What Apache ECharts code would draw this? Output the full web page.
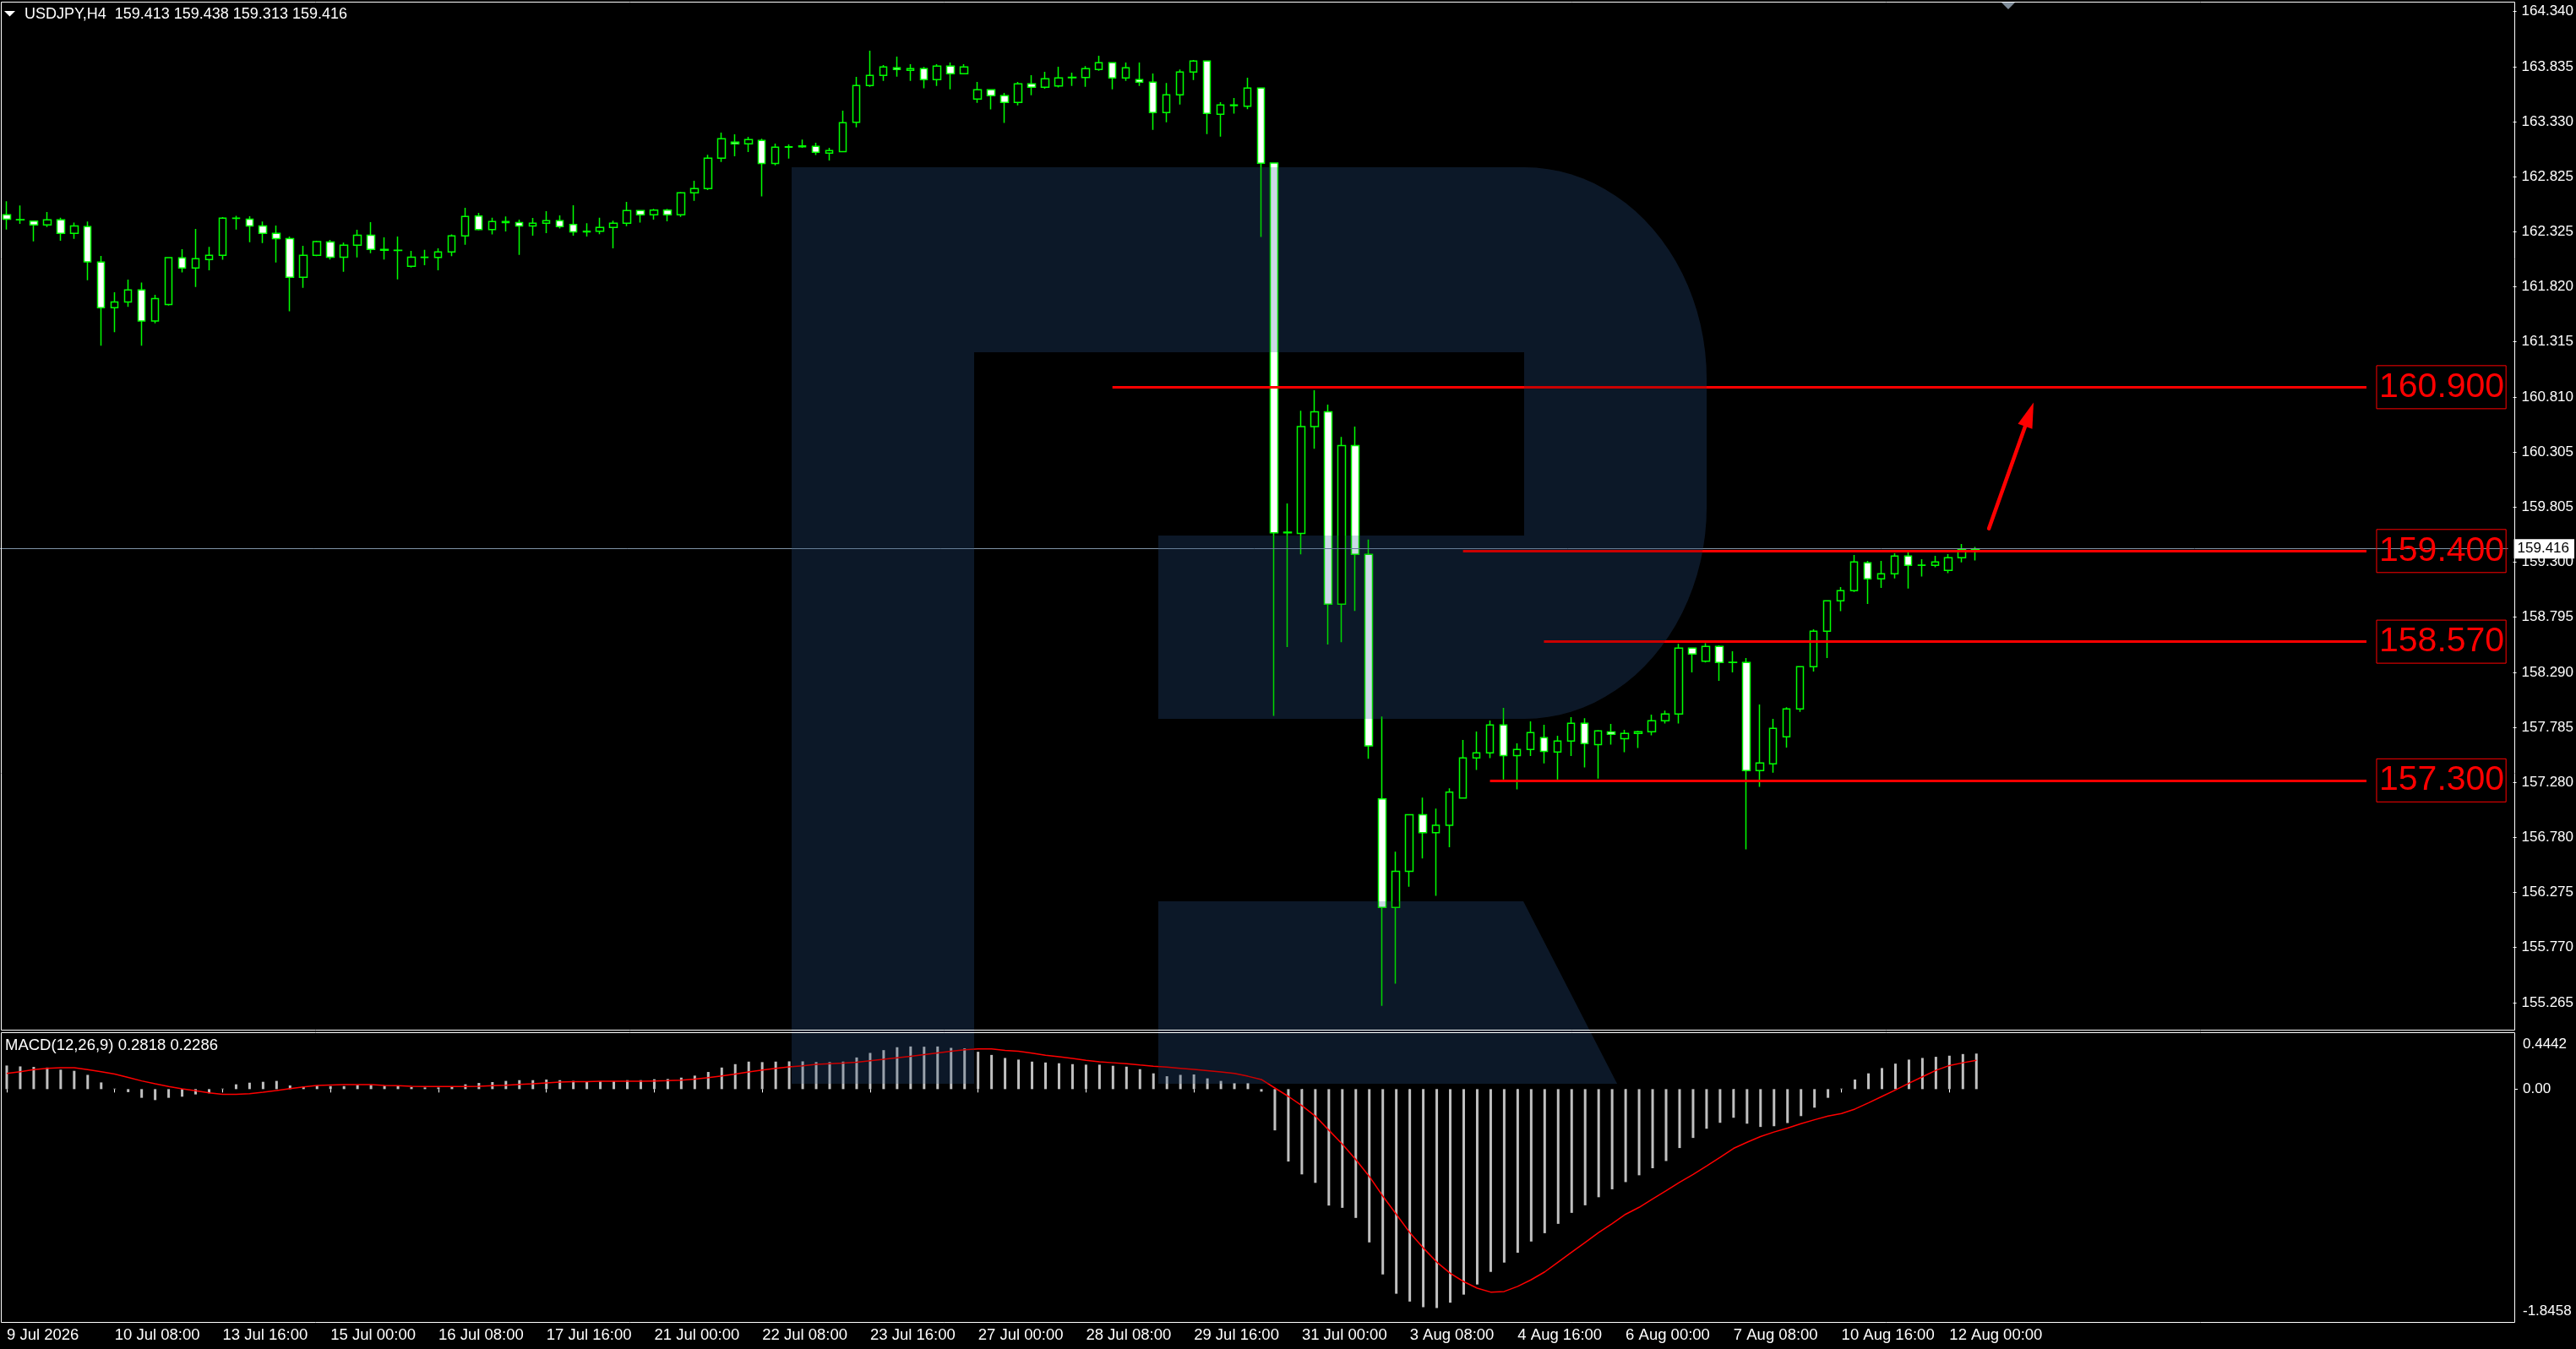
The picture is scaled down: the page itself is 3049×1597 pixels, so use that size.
<!DOCTYPE html>
<html>
<head>
<meta charset="utf-8">
<script src="https://cdn.jsdelivr.net/npm/echarts@6/dist/echarts.min.js"></script>
<style>
html,body{margin:0;padding:0;background:#000;}
#chart{width:3049px;height:1597px;}
</style>
</head>
<body>
<div id="chart"></div>
<script>
// ---------- DATA ----------
const symbolTitle = 'USDJPY,H4  159.413 159.438 159.313 159.416';
const macdTitle = 'MACD(12,26,9) 0.2818 0.2286';

const timeLabels = ['9 Jul 2026','10 Jul 08:00','13 Jul 16:00','15 Jul 00:00','16 Jul 08:00','17 Jul 16:00',
  '21 Jul 00:00','22 Jul 08:00','23 Jul 16:00','27 Jul 00:00','28 Jul 08:00','29 Jul 16:00','31 Jul 00:00',
  '3 Aug 08:00','4 Aug 16:00','6 Aug 00:00','7 Aug 08:00','10 Aug 16:00','12 Aug 00:00'];
const labelStep = 8;       // one time label every 8 H4 bars
const slotCount = 186;     // bar slots visible across the chart (incl. empty right margin)

const opens = [162.478,162.432,162.421,162.385,162.432,162.308,162.370,162.045,161.627,161.681,
161.790,161.506,161.656,162.084,161.991,162.068,162.107,162.447,162.439,162.377,
162.308,162.261,161.906,162.107,162.230,162.091,162.200,162.292,162.161,162.153,
162.006,162.091,162.089,162.138,162.285,162.468,162.344,162.416,162.408,162.377,
162.401,162.424,162.390,162.323,162.328,162.362,162.401,162.517,162.478,162.522,
162.478,162.679,162.718,162.997,163.143,163.128,163.159,162.948,163.097,163.102,
163.105,163.043,163.056,163.326,163.662,163.754,163.824,163.801,163.816,163.716,
163.840,163.770,163.538,163.623,163.569,163.507,163.677,163.646,163.659,163.734,
163.736,163.809,163.870,163.731,163.716,163.693,163.414,163.577,163.785,163.886,
163.399,163.484,163.473,163.638,162.952,159.566,159.561,160.539,160.674,158.914,
160.365,159.369,157.131,156.136,156.467,156.985,156.822,156.889,157.139,157.505,
157.552,157.807,157.526,157.583,157.691,157.560,157.660,157.822,157.627,157.743,
157.681,157.730,157.745,157.846,157.908,158.511,158.392,158.526,158.379,158.379,
157.389,157.451,157.699,157.954,158.341,158.666,158.944,159.037,159.292,159.145,
159.191,159.354,159.269,159.269,159.222,159.338,159.413];

const highs = [162.602,162.563,162.425,162.504,162.452,162.408,162.416,162.102,161.769,161.885,
161.859,161.746,162.091,162.163,162.349,162.184,162.457,162.470,162.465,162.416,
162.380,162.279,162.194,162.241,162.249,162.223,162.341,162.411,162.272,162.279,
162.148,162.158,162.171,162.298,162.542,162.496,162.452,162.463,162.434,162.450,
162.512,162.473,162.566,162.401,162.452,162.424,162.597,162.524,162.532,162.532,
162.687,162.790,163.027,163.231,163.216,163.192,163.174,163.131,163.123,163.167,
163.138,163.092,163.432,163.742,163.981,163.850,163.927,163.858,163.832,163.858,
163.873,163.858,163.695,163.626,163.595,163.695,163.757,163.788,163.834,163.780,
163.840,163.935,163.873,163.873,163.873,163.772,163.685,163.809,163.896,163.890,
163.510,163.548,163.734,163.640,162.955,159.836,160.685,160.871,160.741,160.444,
160.539,159.504,157.885,156.647,156.990,157.142,157.041,157.227,157.670,157.748,
157.848,157.964,157.639,157.841,157.810,157.709,157.879,157.869,157.761,157.817,
157.763,157.755,157.902,157.939,158.549,158.515,158.555,158.537,158.482,158.421,
157.995,157.864,157.969,158.345,158.684,158.948,159.070,159.364,159.310,159.310,
159.380,159.387,159.325,159.356,159.372,159.465,159.438];

const lows = [162.344,162.395,162.236,162.367,162.241,162.259,161.880,161.279,161.403,161.635,
161.279,161.485,161.648,161.950,161.818,161.970,162.066,162.344,162.228,162.220,
162.042,161.596,161.810,162.099,162.068,161.957,162.089,162.127,162.068,161.888,
161.996,162.017,161.970,162.099,162.205,162.336,162.298,162.326,162.112,162.287,
162.310,162.354,162.287,162.279,162.300,162.171,162.375,162.408,162.434,162.419,
162.460,162.607,162.705,162.963,163.015,163.053,162.646,162.932,162.994,163.092,
163.025,162.976,163.053,163.280,163.651,163.705,163.744,163.705,163.636,163.659,
163.628,163.765,163.504,163.443,163.319,163.481,163.574,163.633,163.644,163.659,
163.651,163.798,163.628,163.705,163.659,163.257,163.326,163.489,163.713,163.218,
163.195,163.404,163.445,162.275,157.890,158.520,159.369,160.337,158.543,158.565,
158.852,157.497,155.236,155.438,156.327,156.585,156.243,156.687,157.139,157.395,
157.503,157.309,157.217,157.523,157.456,157.309,157.523,157.418,157.317,157.627,
157.557,157.596,157.712,157.820,157.820,158.289,158.379,158.212,158.289,156.668,
157.240,157.371,157.601,157.928,158.297,158.421,158.849,159.026,158.916,159.063,
159.150,159.057,159.166,159.251,159.197,159.297,159.313];

const closes = [162.439,162.434,162.385,162.432,162.308,162.377,162.048,161.627,161.681,161.790,
161.506,161.712,162.086,161.991,162.076,162.107,162.447,162.445,162.377,162.308,
162.261,161.906,162.107,162.233,162.091,162.200,162.292,162.161,162.153,162.151,
162.091,162.089,162.138,162.285,162.463,162.344,162.416,162.408,162.377,162.401,
162.424,162.370,162.323,162.328,162.362,162.401,162.517,162.478,162.522,162.478,
162.679,162.718,162.997,163.174,163.128,163.167,162.948,163.097,163.102,163.110,
163.051,163.066,163.321,163.662,163.754,163.832,163.809,163.816,163.716,163.840,
163.770,163.832,163.623,163.569,163.507,163.677,163.646,163.724,163.731,163.738,
163.816,163.870,163.731,163.824,163.693,163.414,163.577,163.785,163.886,163.406,
163.484,163.479,163.638,162.950,159.566,159.572,160.539,160.674,158.914,160.365,
159.369,157.615,156.136,156.467,156.985,156.822,156.889,157.193,157.505,157.552,
157.807,157.526,157.583,157.737,157.565,157.660,157.822,157.637,157.753,157.722,
157.730,157.745,157.846,157.908,158.511,158.457,158.526,158.379,158.381,157.389,
157.459,157.776,157.954,158.341,158.666,158.944,159.037,159.300,159.145,159.191,
159.354,159.269,159.271,159.300,159.338,159.416,159.416];

const macdHist = [0.187,0.180,0.176,0.171,0.154,0.145,0.113,0.053,0.004,-0.024,
-0.069,-0.087,-0.069,-0.060,-0.042,-0.033,0.004,0.038,0.051,0.058,
0.065,0.029,0.020,0.029,0.024,0.024,0.033,0.033,0.027,0.024,
0.016,0.013,0.013,0.020,0.038,0.049,0.056,0.065,0.071,0.071,
0.076,0.071,0.065,0.062,0.062,0.062,0.071,0.071,0.078,0.080,
0.091,0.107,0.136,0.171,0.198,0.218,0.214,0.218,0.220,0.220,
0.214,0.214,0.218,0.251,0.287,0.309,0.332,0.338,0.336,0.338,
0.327,0.323,0.296,0.271,0.247,0.234,0.218,0.211,0.205,0.198,
0.194,0.194,0.185,0.178,0.158,0.125,0.102,0.113,0.116,0.085,
0.065,0.047,0.047,-0.020,-0.327,-0.574,-0.676,-0.743,-0.923,-0.941,
-1.021,-1.215,-1.469,-1.622,-1.684,-1.729,-1.736,-1.693,-1.629,-1.549,
-1.449,-1.375,-1.297,-1.208,-1.142,-1.068,-0.981,-0.921,-0.857,-0.794,
-0.737,-0.683,-0.627,-0.570,-0.467,-0.387,-0.314,-0.267,-0.227,-0.274,
-0.300,-0.294,-0.269,-0.214,-0.147,-0.069,0.004,0.076,0.125,0.167,
0.202,0.234,0.247,0.256,0.265,0.278,0.2818];

const macdSignal = [0.125,0.138,0.154,0.165,0.169,0.169,0.154,0.138,0.120,0.093,
0.065,0.042,0.020,0.002,-0.013,-0.029,-0.042,-0.042,-0.036,-0.024,
-0.011,0.004,0.018,0.029,0.033,0.036,0.036,0.036,0.029,0.027,
0.022,0.020,0.020,0.020,0.020,0.022,0.027,0.031,0.038,0.042,
0.049,0.056,0.060,0.060,0.062,0.062,0.062,0.062,0.065,0.067,
0.071,0.080,0.091,0.105,0.120,0.136,0.151,0.165,0.176,0.185,
0.196,0.202,0.207,0.214,0.225,0.236,0.249,0.260,0.274,0.287,
0.300,0.312,0.318,0.318,0.307,0.300,0.285,0.269,0.256,0.243,
0.229,0.216,0.209,0.202,0.191,0.182,0.174,0.165,0.156,0.147,
0.136,0.125,0.102,0.076,0.009,-0.058,-0.131,-0.214,-0.325,-0.436,
-0.559,-0.692,-0.848,-0.992,-1.137,-1.259,-1.371,-1.460,-1.526,-1.578,
-1.609,-1.604,-1.564,-1.511,-1.449,-1.371,-1.293,-1.215,-1.137,-1.066,
-0.992,-0.937,-0.870,-0.806,-0.739,-0.676,-0.610,-0.541,-0.470,-0.421,
-0.376,-0.340,-0.309,-0.274,-0.243,-0.214,-0.194,-0.158,-0.109,-0.058,
-0.007,0.047,0.098,0.149,0.187,0.209,0.2286];

const priceTicks = [164.340,163.835,163.330,162.825,162.325,161.820,161.315,160.810,160.305,159.805,
  159.300,158.795,158.290,157.785,157.280,156.780,156.275,155.770,155.265];
const priceMin = 155.017, priceMax = 164.422;
const macdMin = -1.8458, macdMax = 0.4442;
const macdAxisLabels = ['0.4442', '0.00', '-1.8458'];

const currentPrice = 159.416;
const levels = [160.900, 159.400, 158.570, 157.300];
const levelStartBars = [82, 108, 114, 110];
const levelEndBar = 175;
const arrowFrom = [146.8, 159.606];
const arrowTo = [150.2, 160.650];

// ---------- BUILD ----------
const categories = Array.from({length: slotCount}, (_, i) => String(i));
const candleData = opens.map((o, i) => [o, closes[i], lows[i], highs[i]]);
const showLabel = (i) => i % labelStep === 0 && (i / labelStep) < timeLabels.length;

const FONT = 'Liberation Sans, Arial, sans-serif';
const WHITE = '#ffffff';
const LOGO_BASE = '#0f1c2c';   // logo colour under the marks
const LOGO_TINT = '#cbd7e5';   // tint multiplied over the marks inside the logo

// logo rounded bowl polygon (decoration)
function bowlPoints() {
  const pts = [];
  const cx = 1804, rx = 216, ry = 251;
  for (let k = 0; k <= 24; k++) { const a = -Math.PI / 2 + (Math.PI / 2) * k / 24; pts.push([cx + rx * Math.cos(a), 449 + ry * Math.sin(a)]); }
  for (let k = 0; k <= 24; k++) { const a = (Math.PI / 2) * k / 24; pts.push([cx + rx * Math.cos(a), 600 + ry * Math.sin(a)]); }
  return pts;
}
function logoShapes(fill, z, blend) {
  const st = blend ? { fill: fill, blend: blend } : { fill: fill };
  return [
    { type: 'rect', z: z, silent: true, shape: { x: 937, y: 198, width: 216, height: 1085 }, style: Object.assign({}, st) },
    { type: 'rect', z: z, silent: true, shape: { x: 1153, y: 198, width: 651, height: 219 }, style: Object.assign({}, st) },
    { type: 'polygon', z: z, silent: true, shape: { points: bowlPoints() }, style: Object.assign({}, st) },
    { type: 'rect', z: z, silent: true, shape: { x: 1371, y: 634, width: 433, height: 217 }, style: Object.assign({}, st) },
    { type: 'polygon', z: z, silent: true, shape: { points: [[1371, 1067], [1803, 1067], [1914, 1283], [1371, 1283]] }, style: Object.assign({}, st) }
  ];
}

const levelMarks = levels.map((lv, i) => [
  { coord: [levelStartBars[i], lv], symbol: 'none', lineStyle: { color: '#ff0000', width: 3, type: 'solid' } },
  { coord: [levelEndBar, lv], symbol: 'none',
    label: { show: true, position: 'end', distance: 12, formatter: lv.toFixed(3), color: '#ff0000',
      fontFamily: FONT, fontSize: 41, lineHeight: 44, borderColor: '#ff0000', borderWidth: 1,
      padding: [4, 2, 3, 3] } }
]);

const option = {
  backgroundColor: '#000000',
  animation: false,
  textStyle: { fontFamily: FONT },
  grid: [
    { left: -6, top: 3, width: 2976, height: 1216 },
    { left: -6, top: 1223, width: 2976, height: 342 }
  ],
  xAxis: [
    { type: 'category', gridIndex: 0, data: categories, boundaryGap: true, show: false },
    { type: 'category', gridIndex: 1, data: categories, boundaryGap: true,
      axisLine: { show: false },
      axisTick: { show: true, alignWithLabel: true, interval: showLabel, length: 4, lineStyle: { color: WHITE, width: 1 } },
      axisLabel: { show: true, interval: showLabel, formatter: (v, i) => timeLabels[i / labelStep] || '',
        align: 'left', color: WHITE, fontSize: 18.5, fontFamily: FONT, margin: 6 },
      splitLine: { show: false } }
  ],
  yAxis: [
    { type: 'value', gridIndex: 0, position: 'right', offset: 6, min: priceMin, max: priceMax, scale: true,
      axisLine: { show: false }, splitLine: { show: false },
      axisTick: { show: true, customValues: priceTicks, length: 4, lineStyle: { color: WHITE } },
      axisLabel: { show: true, customValues: priceTicks, formatter: (v) => v.toFixed(3), color: WHITE,
        fontSize: 17, fontFamily: FONT, margin: 10, padding: [4, 0, 0, 0] } },
    { type: 'value', gridIndex: 1, position: 'right', offset: 6, min: macdMin, max: macdMax,
      axisLine: { show: false }, splitLine: { show: false },
      axisTick: { show: true, customValues: [0], length: 4, lineStyle: { color: WHITE } },
      axisLabel: { show: true, customValues: [macdMax - 0.087, 0, macdMin + 0.087],
        formatter: (v) => v > 0.1 ? macdAxisLabels[0] : (v < -1 ? macdAxisLabels[2] : macdAxisLabels[1]),
        color: WHITE, fontSize: 17, fontFamily: FONT, margin: 10, padding: [4, 0, 0, 0] } }
  ],
  series: [
    { type: 'candlestick', xAxisIndex: 0, yAxisIndex: 0, data: candleData, barWidth: 9, z: 3,
      itemStyle: { color: '#000000', color0: '#ffffff', borderColor: '#00ff00', borderColor0: '#00ff00', borderWidth: 1.5 },
      markLine: {
        silent: true, symbol: ['none', 'none'], animation: false,
        data: [
          { yAxis: currentPrice, lineStyle: { color: '#7f93a6', width: 1, type: 'solid' },
            label: { show: true, position: 'end', distance: 7, formatter: currentPrice.toFixed(3),
              backgroundColor: '#ffffff', color: '#000000', fontSize: 17, fontFamily: FONT, padding: [3, 6, 3, 4] } }
        ].concat(levelMarks)
         .concat([[
          { coord: arrowFrom, symbol: 'none', lineStyle: { color: '#ff0000', width: 4.5, type: 'solid', cap: 'round' } },
          { coord: arrowTo, symbol: 'triangle', symbolSize: [18, 30] }
        ]])
      }
    },
    { type: 'bar', xAxisIndex: 1, yAxisIndex: 1, data: macdHist, barWidth: 3, z: 3,
      itemStyle: { color: '#c0c0c0' } },
    { type: 'line', xAxisIndex: 1, yAxisIndex: 1, data: macdSignal, showSymbol: false, z: 4,
      lineStyle: { color: '#ff0000', width: 1.5 } }
  ],
  graphic: [].concat(
    logoShapes(LOGO_BASE, 0, null),
    logoShapes(LOGO_TINT, 10, 'multiply'),
    [
    // panel frames
    { type: 'rect', z: 50, silent: true, shape: { x: 1.5, y: 2.5, width: 2975, height: 1217 }, style: { fill: null, stroke: WHITE, lineWidth: 1 } },
    { type: 'rect', z: 50, silent: true, shape: { x: 1.5, y: 1222.5, width: 2975, height: 343 }, style: { fill: null, stroke: WHITE, lineWidth: 1 } },
    // chart shift marker
    { type: 'polygon', z: 50, silent: true, shape: { points: [[2369, 3], [2385, 3], [2377, 11]] }, style: { fill: '#7f8c99' } },
    // header
    { type: 'polygon', z: 50, silent: true, shape: { points: [[5, 13], [18, 13], [11.5, 19.5]] }, style: { fill: WHITE } },
    { type: 'text', z: 50, silent: true, x: 29, y: 17, style: { text: symbolTitle, fill: WHITE, fontSize: 18, fontFamily: FONT, verticalAlign: 'middle' } },
    { type: 'text', z: 50, silent: true, x: 6, y: 1238, style: { text: macdTitle, fill: WHITE, fontSize: 18.5, fontFamily: FONT, verticalAlign: 'middle' } }
  ])
};

const chart = echarts.init(document.getElementById('chart'), null, { renderer: 'canvas' });
chart.setOption(option);
</script>
</body>
</html>
